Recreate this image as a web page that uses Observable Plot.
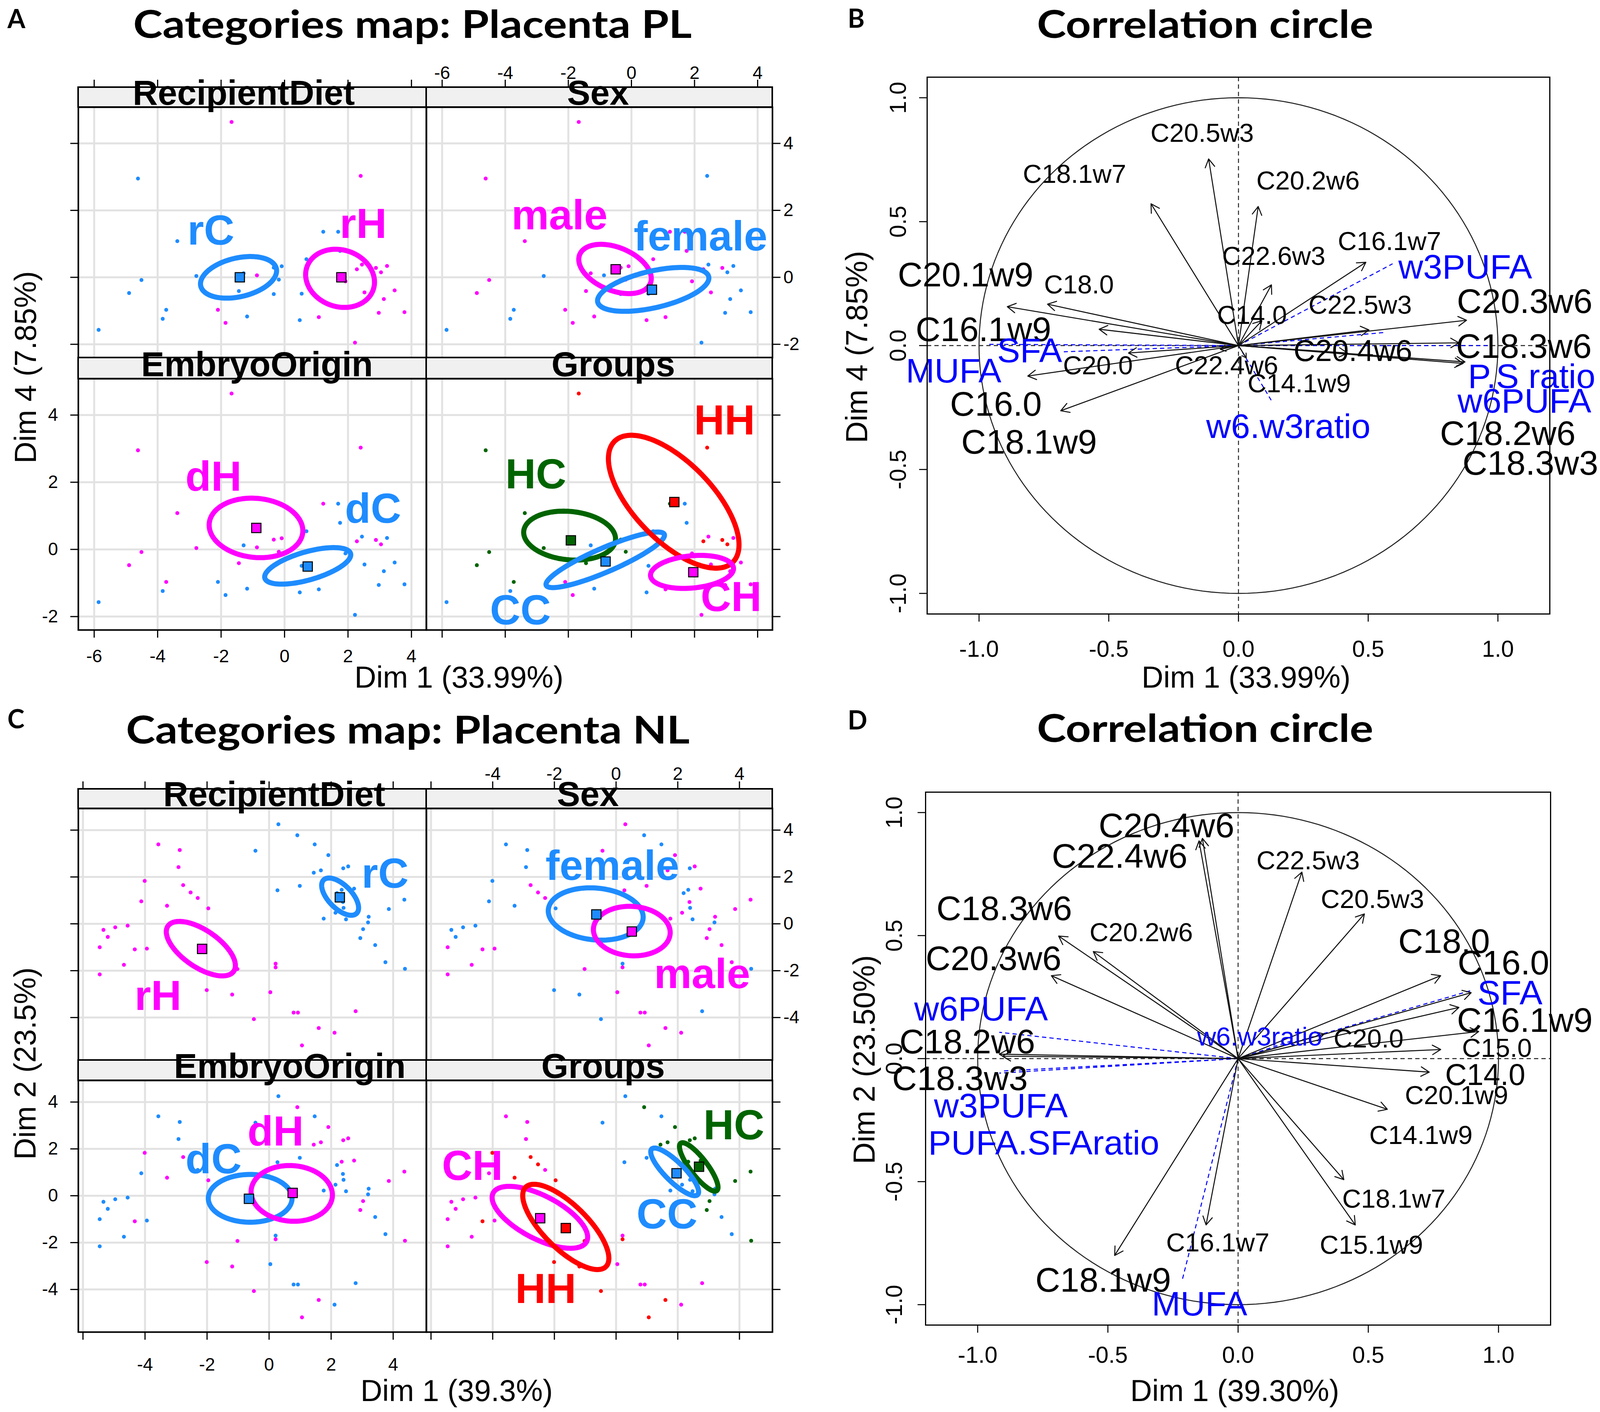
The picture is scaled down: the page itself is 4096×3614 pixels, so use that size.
<!DOCTYPE html>
<html><head><meta charset="utf-8">
<script src="https://cdn.jsdelivr.net/npm/d3@7"></script>
<script src="https://cdn.jsdelivr.net/npm/@observablehq/plot@0.6"></script>
<style>
html,body{margin:0;padding:0;background:#fff;}
#fig{position:relative;width:4096px;height:3614px;overflow:hidden;background:#fff;}
</style></head>
<body><div id="fig"></div>
<script>
// ================= DATA =================
// Panel A — Placenta PL individuals: [Dim1, Dim4, Group, Sex]
const plIndividuals = [
  [-1.67, 4.64, "HH", "male"], [-4.62, 2.95, "HC", "male"], [-3.38, 1.08, "HC", "male"],
  [-4.51, -0.08, "HC", "male"], [-4.90, -0.47, "HC", "male"], [-2.10, -0.97, "CH", "male"],
  [-1.86, -1.36, "CH", "male"], [-1.18, -1.17, "CC", "male"], [0.48, -1.28, "CC", "male"],
  [1.08, -1.19, "CH", "male"], [-1.29, 0.12, "CC", "male"], [-1.44, -0.41, "HC", "male"],
  [-0.34, 0.29, "HC", "male"], [-0.09, 0.33, "HC", "male"], [-0.18, -0.07, "HC", "male"],
  [0.69, 0.54, "CC", "male"], [1.22, 1.36, "HC", "male"], [1.69, 1.36, "CC", "male"],
  [1.75, 0.79, "CC", "male"], [1.92, -0.12, "CH", "male"], [2.28, 0.24, "HH", "male"],
  [2.88, 0.28, "HH", "male"], [2.52, -0.45, "CH", "male"], [2.40, 3.03, "HH", "female"],
  [-2.78, 0.04, "HC", "female"], [-0.87, 0.06, "HH", "female"], [-3.73, -0.97, "HC", "female"],
  [-3.84, -1.24, "CC", "female"], [-5.86, -1.57, "CC", "female"], [0.54, -0.49, "CC", "female"],
  [-0.34, -0.50, "HC", "female"], [2.44, 0.38, "CH", "female"], [3.23, 0.34, "CH", "female"],
  [3.04, 0.15, "HH", "female"], [3.47, -0.39, "CH", "female"], [3.13, -0.65, "CH", "female"],
  [2.97, -1.06, "CH", "female"], [3.78, -1.04, "CH", "female"], [2.22, -1.95, "CH", "female"]
];
// confidence ellipses: [category, cx, cy, semi-axis a, semi-axis b, angle°]
const plEllipseRD = [["rC", -1.45, 0.00, 1.22, 0.58, 12], ["rH", 1.75, -0.03, 1.10, 0.85, -15]];
const plEllipseSex = [["male", -0.52, 0.25, 1.20, 0.65, -20], ["female", 0.69, -0.36, 1.80, 0.55, 12]];
const plEllipseEO = [["dH", -0.90, 0.64, 1.48, 0.88, -5], ["dC", 0.73, -0.49, 1.40, 0.42, 15]];
const plEllipseGroups = [["HC", -1.96, 0.41, 1.46, 0.72, -5], ["CC", -0.83, -0.31, 2.02, 0.36, 22],
  ["HH", 1.34, 1.42, 2.60, 1.20, -43], ["CH", 1.92, -0.67, 1.32, 0.48, 5]];
// category centres: [category, x, y]
const plCenterRD = [["rC", -1.41, 0.00], ["rH", 1.79, 0.00]];
const plCenterSex = [["male", -0.50, 0.24], ["female", 0.65, -0.37]];
const plCenterEO = [["dH", -0.89, 0.64], ["dC", 0.73, -0.51]];
const plCenterGroups = [["HH", 1.36, 1.41], ["HC", -1.92, 0.27], ["CC", -0.82, -0.36], ["CH", 1.96, -0.68]];
// category labels: [text, x, y]
const plLabelRD = [["rC", -2.32, 1.38], ["rH", 2.48, 1.58]];
const plLabelSex = [["male", -2.28, 1.84], ["female", 2.19, 1.21]];
const plLabelEO = [["dH", -2.24, 2.15], ["dC", 2.79, 1.19]];
const plLabelGroups = [["HH", 2.95, 3.82], ["HC", -3.03, 2.22], ["CC", -3.52, -1.83], ["CH", 3.16, -1.43]];

// Panel C — Placenta NL individuals: [Dim1, Dim2, Group, Sex]
const nlIndividuals = [
  [0.30, 4.25, "CC", "male"], [-0.44, 3.12, "CC", "male"], [1.47, 3.39, "CC", "female"],
  [0.27, 1.43, "CC", "male"], [0.99, 1.62, "CC", "male"], [1.76, 0.22, "CC", "male"],
  [2.14, 0.47, "CC", "male"], [3.19, 0.06, "CC", "female"], [3.21, 0.30, "CC", "male"],
  [3.42, -0.91, "CC", "male"], [3.75, -1.64, "CC", "male"], [2.38, 0.93, "CC", "male"],
  [2.40, 0.68, "CC", "female"], [2.48, 0.19, "CC", "female"], [2.19, 1.31, "CC", "female"],
  [0.91, 3.78, "HC", "female"], [1.91, 2.93, "HC", "male"], [2.55, 2.45, "HC", "male"],
  [2.39, 2.37, "HC", "female"], [1.67, 2.28, "HC", "male"], [1.44, 2.18, "HC", "female"],
  [4.36, 1.03, "HC", "male"], [3.86, 0.63, "HC", "male"], [3.03, -0.23, "HC", "male"],
  [2.94, -0.61, "HC", "male"], [4.38, -1.92, "HC", "female"], [2.74, 1.50, "HC", "male"],
  [2.34, 1.45, "HC", "female"], [-3.57, 3.39, "CH", "female"], [-2.88, 3.15, "CH", "female"],
  [-2.92, 2.42, "CH", "female"], [-2.30, 1.10, "CH", "male"], [-4.12, 0.96, "CH", "female"],
  [-5.34, -0.26, "CH", "female"], [-4.96, -0.15, "CH", "female"], [-4.56, -0.08, "CH", "female"],
  [-5.20, -0.56, "CH", "female"], [-5.46, -1.00, "CH", "male"], [-3.94, -1.06, "CH", "male"],
  [-4.68, -1.75, "CH", "male"], [-5.46, -2.16, "CH", "male"], [0.21, -1.70, "CH", "female"],
  [0.04, -2.92, "CH", "male"], [0.79, -3.79, "CH", "male"], [0.93, -3.79, "CH", "male"],
  [2.79, -3.73, "CH", "female"], [2.11, -4.65, "CH", "male"], [-4.01, 1.83, "HH", "female"],
  [-2.77, 1.65, "HH", "male"], [-2.53, 1.34, "HH", "male"], [-3.29, 0.77, "HH", "female"],
  [-1.96, 0.66, "HH", "female"], [-4.33, -1.09, "HH", "male"], [0.21, -1.86, "HH", "male"],
  [-2.01, -2.83, "HH", "female"], [-1.19, -3.02, "HH", "female"], [-0.49, -4.07, "HH", "female"],
  [1.60, -4.45, "HH", "male"], [1.06, -5.19, "HH", "male"], [-1.02, -1.93, "HH", "male"]
];
const nlEllipseRD = [["rC", 2.29, 1.16, 0.90, 0.42, -58], ["rH", -2.20, -1.06, 1.45, 0.70, -47]];
const nlEllipseSex = [["female", -0.66, 0.42, 1.55, 1.10, -10], ["male", 0.51, -0.31, 1.25, 1.05, -10]];
const nlEllipseEO = [["dC", -0.61, -0.11, 1.35, 1.02, 0], ["dH", 0.73, 0.10, 1.32, 1.18, -15]];
const nlEllipseGroups = [["HC", 2.68, 1.23, 1.17, 0.30, -61], ["CC", 1.90, 1.02, 1.23, 0.35, -54],
  ["CH", -2.47, -0.92, 1.85, 0.85, -38], ["HH", -1.63, -1.33, 2.15, 0.80, -55]];
const nlCenterRD = [["rC", 2.28, 1.13], ["rH", -2.16, -1.07]];
const nlCenterSex = [["female", -0.64, 0.40], ["male", 0.51, -0.33]];
const nlCenterEO = [["dC", -0.65, -0.13], ["dH", 0.76, 0.12]];
const nlCenterGroups = [["HC", 2.69, 1.24], ["CC", 1.96, 0.96], ["CH", -2.46, -0.96], ["HH", -1.63, -1.38]];
const nlLabelRD = [["rC", 3.74, 2.12], ["rH", -3.58, -3.10]];
const nlLabelSex = [["female", -0.12, 2.46], ["male", 2.79, -2.17]];
const nlLabelEO = [["dC", -1.79, 1.54], ["dH", 0.21, 2.72]];
const nlLabelGroups = [["HC", 3.82, 2.99], ["CC", 1.65, -0.82], ["CH", -4.66, 1.26], ["HH", -2.28, -4.00]];

// Panel B — correlation circle PL (Dim 1 vs Dim 4)
const bArrows = [
  ["C20.5w3", -0.115, 0.753], ["C18.1w7", -0.337, 0.572], ["C20.2w6", 0.076, 0.561],
  ["C16.1w7", 0.491, 0.336], ["C22.6w3", 0.127, 0.245], ["C14.0", 0.09, 0.10],
  ["C22.5w3", 0.503, 0.063], ["C20.3w6", 0.879, 0.102], ["C18.3w6", 0.85, 0.011],
  ["C18.2w6", 0.873, -0.066], ["C18.3w3", 0.866, -0.072], ["C20.4w6", 0.42, -0.03],
  ["C20.1w9", -0.891, 0.157], ["C18.0", -0.736, 0.167], ["C16.1w9", -0.537, 0.066],
  ["C20.0", -0.424, -0.030], ["C16.0", -0.812, -0.123], ["C18.1w9", -0.685, -0.263],
  ["C22.4w6", -0.07, -0.015], ["C14.1w9", 0.03, -0.05]
];
const bSupplementary = [
  ["w3PUFA", 0.594, 0.330], ["P.S ratio", 0.96, 0.0], ["w6PUFA", 0.564, 0.053],
  ["SFA", -0.673, -0.025], ["MUFA", -0.97, 0.005], ["w6.w3ratio", 0.127, -0.222]
];
// labels: [text, x, y, size class (s/m/b), colour (k = black, b = blue)]
const bLabels = [
  ["C20.5w3", -0.140, 0.856, "s", "k"], ["C18.1w7", -0.632, 0.690, "s", "k"], ["C20.2w6", 0.268, 0.663, "s", "k"],
  ["C16.1w7", 0.582, 0.419, "s", "k"], ["w3PUFA", 0.874, 0.315, "b", "b"], ["C22.6w3", 0.136, 0.360, "s", "k"],
  ["C20.1w9", -1.052, 0.284, "b", "k"], ["C18.0", -0.615, 0.245, "s", "k"], ["C20.3w6", 1.103, 0.176, "b", "k"],
  ["C22.5w3", 0.469, 0.162, "s", "k"], ["C14.0", 0.052, 0.122, "s", "k"], ["C16.1w9", -0.983, 0.062, "b", "k"],
  ["C18.3w6", 1.100, -0.005, "b", "k"], ["SFA", -0.805, -0.023, "b", "b"], ["C20.4w6", 0.441, -0.023, "m", "k"],
  ["C20.0", -0.542, -0.082, "s", "k"], ["C22.4w6", -0.046, -0.082, "s", "k"], ["MUFA", -1.098, -0.104, "b", "b"],
  ["P.S ratio", 1.130, -0.127, "b", "b"], ["C14.1w9", 0.234, -0.154, "s", "k"], ["w6PUFA", 1.102, -0.226, "b", "b"],
  ["C16.0", -0.935, -0.239, "b", "k"], ["w6.w3ratio", 0.192, -0.329, "b", "b"], ["C18.2w6", 1.038, -0.356, "b", "k"],
  ["C18.1w9", -0.807, -0.392, "b", "k"], ["C18.3w3", 1.125, -0.477, "b", "k"]
];

// Panel D — correlation circle NL (Dim 1 vs Dim 2)
const dArrows = [
  ["C20.4w6", -0.137, 0.895], ["C22.4w6", -0.150, 0.885], ["C22.5w3", 0.245, 0.758],
  ["C20.5w3", 0.485, 0.588], ["C18.3w6", -0.689, 0.498], ["C20.2w6", -0.556, 0.435],
  ["C20.3w6", -0.717, 0.337], ["C18.0", 0.778, 0.337], ["C16.0", 0.895, 0.268],
  ["C16.1w9", 0.848, 0.208], ["C15.0", 0.924, 0.11], ["C14.0", 0.778, 0.037],
  ["C20.1w9", 0.734, -0.055], ["C14.1w9", 0.573, -0.206], ["C18.1w7", 0.406, -0.492],
  ["C15.1w9", 0.450, -0.676], ["C16.1w7", -0.123, -0.676], ["C18.1w9", -0.474, -0.800],
  ["C18.2w6", -0.917, 0.018], ["C18.3w3", -0.905, 0.010], ["C20.0", 0.33, 0.10]
];
const dSupplementary = [
  ["SFA", 0.902, 0.279], ["w6PUFA", -0.917, 0.107], ["w3PUFA", -0.917, -0.059],
  ["PUFA.SFAratio", -0.90, -0.05], ["MUFA", -0.214, -0.898], ["w6.w3ratio", 0.20, 0.07]
];
const dLabels = [
  ["C20.4w6", -0.275, 0.945, "b", "k"], ["C22.4w6", -0.455, 0.820, "b", "k"], ["C22.5w3", 0.269, 0.804, "s", "k"],
  ["C20.5w3", 0.516, 0.647, "s", "k"], ["C18.3w6", -0.898, 0.608, "b", "k"], ["C20.2w6", -0.372, 0.512, "s", "k"],
  ["C18.0", 0.791, 0.475, "b", "k"], ["C16.0", 1.019, 0.387, "b", "k"], ["C20.3w6", -0.939, 0.405, "b", "k"],
  ["SFA", 1.044, 0.264, "b", "b"], ["w6PUFA", -0.987, 0.199, "b", "b"], ["C16.1w9", 1.101, 0.153, "b", "k"],
  ["w6.w3ratio", 0.083, 0.088, "s", "b"], ["C20.0", 0.501, 0.079, "s", "k"], ["C18.2w6", -1.040, 0.066, "b", "k"],
  ["C15.0", 0.994, 0.042, "s", "k"], ["C18.3w3", -1.068, -0.083, "b", "k"], ["C14.0", 0.949, -0.068, "m", "k"],
  ["C20.1w9", 0.839, -0.151, "s", "k"], ["w3PUFA", -0.911, -0.194, "b", "b"], ["C14.1w9", 0.702, -0.313, "s", "k"],
  ["PUFA.SFAratio", -0.746, -0.345, "b", "b"], ["C18.1w7", 0.598, -0.571, "s", "k"], ["C16.1w7", -0.078, -0.750, "s", "k"],
  ["C15.1w9", 0.512, -0.759, "s", "k"], ["C18.1w9", -0.518, -0.903, "b", "k"], ["MUFA", -0.148, -0.999, "b", "b"]
];

// tick values
const plTicksX = [-6, -4, -2, 0, 2, 4], plTicksY = [-2, 0, 2, 4];
const nlTicksX = [-6, -4, -2, 0, 2, 4], nlTicksY = [-4, -2, 0, 2, 4];
const corrTicks = [-1, -0.5, 0, 0.5, 1];

// ================= DRAWING =================
const BLUE = "#1E8CFF", MAG = "#FF00FF", RED = "#FF0000", GREEN = "#006400";
const catColor = {rC: BLUE, rH: MAG, female: BLUE, male: MAG, dC: BLUE, dH: MAG, CC: BLUE, HC: GREEN, HH: RED, CH: MAG};
const FONT = "'Liberation Sans', Arial, Helvetica, sans-serif";
const TFONT = "Lato, 'Open Sans', sans-serif";
const fig = document.getElementById("fig");

function place(el, left, top, w) {
  const div = document.createElement("div");
  div.style.position = "absolute"; div.style.left = left + "px"; div.style.top = top + "px";
  div.style.width = w + "px";
  div.appendChild(el); fig.appendChild(div);
}
function ellipsePoints([cat, cx, cy, a, b, deg]) {
  const t = deg * Math.PI / 180, out = [];
  for (let i = 0; i <= 144; i++) {
    const p = 2 * Math.PI * i / 144;
    out.push({cat, color: catColor[cat],
      x: cx + a * Math.cos(p) * Math.cos(t) - b * Math.sin(p) * Math.sin(t),
      y: cy + a * Math.cos(p) * Math.sin(t) + b * Math.sin(p) * Math.cos(t)});
  }
  return out;
}

function facetPlot(P, f, r, c, inds) {
  const [L, R] = P.cols[c], [T, B, strip] = P.rows[r];
  const ml = 240, mr = 240, mt = 220, mb = 200;
  const width = Math.round(R - L) + ml + mr, height = Math.round(B - T) + mt + mb;
  const pts = inds.map(d => ({x: d[0], y: d[1], color: catColor[f.cat(d)]}));
  const ell = f.ell.flatMap(ellipsePoints);
  const cen = f.cen.map(([k, x, y]) => ({x, y, color: catColor[k]}));
  const lab = f.lab.map(([k, x, y]) => ({k, x, y, color: catColor[k]}));
  const ax = {tickSize: 20, fontSize: 46, strokeWidth: 3, label: null};
  const none = () => "";
  const marks = [
    Plot.gridX(P.xt, {stroke: "#e2e2e2", strokeOpacity: 1, strokeWidth: 5}),
    Plot.gridY(P.yt, {stroke: "#e2e2e2", strokeOpacity: 1, strokeWidth: 5}),
    Plot.dot(pts, {x: "x", y: "y", r: 5, fill: "color", stroke: null}),
    Plot.line(ell, {x: "x", y: "y", z: "cat", stroke: "color", strokeWidth: 13}),
    Plot.dot(cen, {x: "x", y: "y", symbol: "square", r: 13.5, fill: "color", stroke: "black", strokeWidth: 2.5}),
    Plot.text(lab, {x: "x", y: "y", text: "k", fill: "color", fontSize: 108, fontWeight: "bold"}),
    Plot.frame({stroke: "black", strokeWidth: 4})
  ];
  if (r === 0) marks.push(Plot.axisX({...ax, ticks: P.xt, anchor: "top", dy: -strip, tickPadding: P.padTop, tickFormat: c === 1 ? P.xfmt : none}));
  else marks.push(Plot.axisX({...ax, ticks: P.xt, anchor: "bottom", tickPadding: P.padBottom, tickFormat: c === 0 ? P.xfmt : none}));
  if (c === 0) marks.push(Plot.axisY({...ax, ticks: P.yt, anchor: "left", tickPadding: 32, tickFormat: r === 1 ? (d => String(d)) : none}));
  else marks.push(Plot.axisY({...ax, ticks: P.yt, anchor: "right", tickPadding: 8, tickFormat: r === 0 ? (d => String(d)) : none}));
  const svg = Plot.plot({
    width, height, marginLeft: ml, marginRight: mr, marginTop: mt, marginBottom: mb,
    x: {domain: P.xd}, y: {domain: P.yd}, color: {type: "identity"},
    style: {background: "transparent", overflow: "visible", fontFamily: FONT},
    marks
  });
  place(svg, Math.round(L) - ml, Math.round(T) - mt, width);
}

const A = {xd: [-6.5, 4.47], yd: [-2.4, 5.08], xt: plTicksX, yt: plTicksY, xfmt: d => String(d),
  cols: [[200, 1091], [1091, 1977]], rows: [[274, 915, 51], [969, 1612, 54]], padTop: 2, padBottom: 30,
  stripText: [624, 1531, 658, 1570]};
const C = {xd: [-6.15, 5.07], yd: [-5.82, 4.92], xt: nlTicksX, yt: nlTicksY, xfmt: d => d === -6 ? "" : String(d),
  cols: [[200, 1091], [1091, 1977]], rows: [[2069, 2713, 50], [2765, 3409, 52]], padTop: 4, padBottom: 46,
  stripText: [702, 1505, 742, 1544]};

const facetsA = [
  {title: "RecipientDiet", cat: d => "r" + d[2][1], ell: plEllipseRD, cen: plCenterRD, lab: plLabelRD},
  {title: "Sex", cat: d => d[3], ell: plEllipseSex, cen: plCenterSex, lab: plLabelSex},
  {title: "EmbryoOrigin", cat: d => "d" + d[2][0], ell: plEllipseEO, cen: plCenterEO, lab: plLabelEO},
  {title: "Groups", cat: d => d[2], ell: plEllipseGroups, cen: plCenterGroups, lab: plLabelGroups}
];
const facetsC = [
  {title: "RecipientDiet", cat: d => "r" + d[2][1], ell: nlEllipseRD, cen: nlCenterRD, lab: nlLabelRD},
  {title: "Sex", cat: d => d[3], ell: nlEllipseSex, cen: nlCenterSex, lab: nlLabelSex},
  {title: "EmbryoOrigin", cat: d => "d" + d[2][0], ell: nlEllipseEO, cen: nlCenterEO, lab: nlLabelEO},
  {title: "Groups", cat: d => d[2], ell: nlEllipseGroups, cen: nlCenterGroups, lab: nlLabelGroups}
];
facetsA.forEach((f, i) => facetPlot(A, f, Math.floor(i / 2), i % 2, plIndividuals));
facetsC.forEach((f, i) => facetPlot(C, f, Math.floor(i / 2), i % 2, nlIndividuals));

const labelSize = {s: 67, m: 77, b: 88};
function corrPlot(o) {
  const [wl, wt, ww, wh] = o.wrap, [bl, br, bt, bb] = o.box;
  const circle = d3.range(0, 361, 2).map(a => ({x: Math.cos(a * Math.PI / 180), y: Math.sin(a * Math.PI / 180)}));
  const arr = o.arrows.map(([k, x, y]) => ({k, x, y}));
  const sup = o.sup.map(([k, x, y]) => ({k, x, y}));
  const lab = o.labels.map(([k, x, y, s, c]) => ({k, x, y, size: labelSize[s], c}));
  const fmt = d => d.toFixed(1);
  const svg = Plot.plot({
    width: ww, height: wh, marginLeft: bl - wl, marginRight: wl + ww - br, marginTop: bt - wt, marginBottom: wt + wh - bb,
    x: {domain: [-1.2, 1.2]}, y: {domain: [-1.083, 1.083]},
    style: {background: "transparent", overflow: "visible", fontFamily: FONT},
    marks: [
      Plot.ruleX([0], {stroke: "#222", strokeWidth: 2.4, strokeDasharray: "11,8"}),
      Plot.ruleY([0], {stroke: "#222", strokeWidth: 2.4, strokeDasharray: "11,8"}),
      Plot.line(circle, {x: "x", y: "y", stroke: "#222", strokeWidth: 2.6}),
      Plot.link(sup, {x1: () => 0, y1: () => 0, x2: "x", y2: "y", stroke: "#0000ff", strokeWidth: 2.6, strokeDasharray: "11,8"}),
      Plot.arrow(arr, {x1: () => 0, y1: () => 0, x2: "x", y2: "y", stroke: "#111", strokeWidth: 2.6, headLength: 14, headAngle: 60}),
      Plot.text(lab.filter(d => d.c === "k"), {x: "x", y: "y", text: "k", fill: "black", fontSize: d => d.size}),
      Plot.text(lab.filter(d => d.c === "b"), {x: "x", y: "y", text: "k", fill: "#0000ff", fontSize: d => d.size}),
      Plot.frame({stroke: "black", strokeWidth: 3}),
      Plot.axisX({ticks: corrTicks, tickFormat: fmt, tickSize: 20, tickPadding: o.xPad, fontSize: 59, strokeWidth: 2.6, label: null}),
      Plot.axisY({ticks: corrTicks, tickFormat: fmt, tickSize: 20, tickPadding: o.yPad, tickRotate: -90, fontSize: 59, strokeWidth: 2.6, label: null})
    ]
  });
  place(svg, wl, wt, ww);
}
corrPlot({wrap: [2100, 120, 1996, 1800], box: [2373, 3967, 197, 1571], arrows: bArrows, sup: bSupplementary, labels: bLabels, xPad: 48, yPad: 35});
corrPlot({wrap: [2100, 1950, 1996, 1650], box: [2369, 3969, 2027, 3391], arrows: dArrows, sup: dSupplementary, labels: dLabels, xPad: 35, yPad: 41});

// ---------- overlay: titles, panel letters, strips, axis titles ----------
const NS = "http://www.w3.org/2000/svg";
const ov = document.createElementNS(NS, "svg");
ov.setAttribute("width", 4096); ov.setAttribute("height", 3614);
ov.style.position = "absolute"; ov.style.left = "0px"; ov.style.top = "0px"; ov.style.overflow = "visible";
fig.appendChild(ov);
function txt(s, x, y, o = {}) {
  const t = document.createElementNS(NS, "text");
  t.textContent = s;
  t.setAttribute("x", 0); t.setAttribute("y", 0);
  t.setAttribute("transform", `translate(${x},${y})` + (o.rotate ? ` rotate(${o.rotate})` : ""));
  t.setAttribute("font-family", o.family || FONT);
  t.setAttribute("font-size", o.size || 74);
  t.setAttribute("font-weight", o.weight || "normal");
  t.setAttribute("text-anchor", o.anchor || "middle");
  if (o.dy) t.setAttribute("dy", o.dy);
  if (o.len) { t.setAttribute("textLength", o.len); t.setAttribute("lengthAdjust", "spacingAndGlyphs"); }
  t.setAttribute("fill", o.fill || "black");
  ov.appendChild(t);
}
function rect(x, y, w, h) {
  const r = document.createElementNS(NS, "rect");
  r.setAttribute("x", x); r.setAttribute("y", y); r.setAttribute("width", w); r.setAttribute("height", h);
  r.setAttribute("fill", "#f0f0f0"); r.setAttribute("stroke", "black"); r.setAttribute("stroke-width", 4);
  ov.appendChild(r);
}
function strips(P, facets) {
  facets.forEach((f, i) => {
    const r = Math.floor(i / 2), c = i % 2;
    const [L, R] = P.cols[c], [T, , s] = P.rows[r];
    rect(L, T - s, R - L, s);
    txt(f.title, P.stripText[i], T - 6, {size: 89, weight: "bold"});
  });
}
strips(A, facetsA); strips(C, facetsC);

txt("A", 19, 72, {family: TFONT, size: 66, weight: "bold", anchor: "start"});
txt("B", 2170, 71, {family: TFONT, size: 66, weight: "bold", anchor: "start"});
txt("C", 19, 1864, {family: TFONT, size: 66, weight: "bold", anchor: "start"});
txt("D", 2170, 1867, {family: TFONT, size: 66, weight: "bold", anchor: "start"});
txt("Categories map: Placenta PL", 1056, 97, {family: TFONT, size: 98, weight: "bold", len: 1430});
txt("Correlation circle", 3085, 97, {family: TFONT, size: 98, weight: "bold", len: 861});
txt("Categories map: Placenta NL", 1044, 1903, {family: TFONT, size: 98, weight: "bold", len: 1443});
txt("Correlation circle", 3085, 1899, {family: TFONT, size: 98, weight: "bold", len: 861});

txt("Dim 1 (33.99%)", 1175, 1760, {size: 77});
txt("Dim 4 (7.85%)", 64, 940, {size: 77, rotate: -90, dy: "0.36em"});
txt("Dim 1 (39.3%)", 1169, 3586, {size: 77});
txt("Dim 2 (23.5%)", 63, 2722, {size: 77, rotate: -90, dy: "0.36em"});
txt("Dim 1 (33.99%)", 3190, 1732, {size: 77, dy: "0.36em"});
txt("Dim 4 (7.85%)", 2192, 888, {size: 77, rotate: -90, dy: "0.36em"});
txt("Dim 1 (39.30%)", 3161, 3558, {size: 77, dy: "0.36em"});
txt("Dim 2 (23.50%)", 2211, 2712, {size: 77, rotate: -90, dy: "0.36em"});
</script>
</body></html>
